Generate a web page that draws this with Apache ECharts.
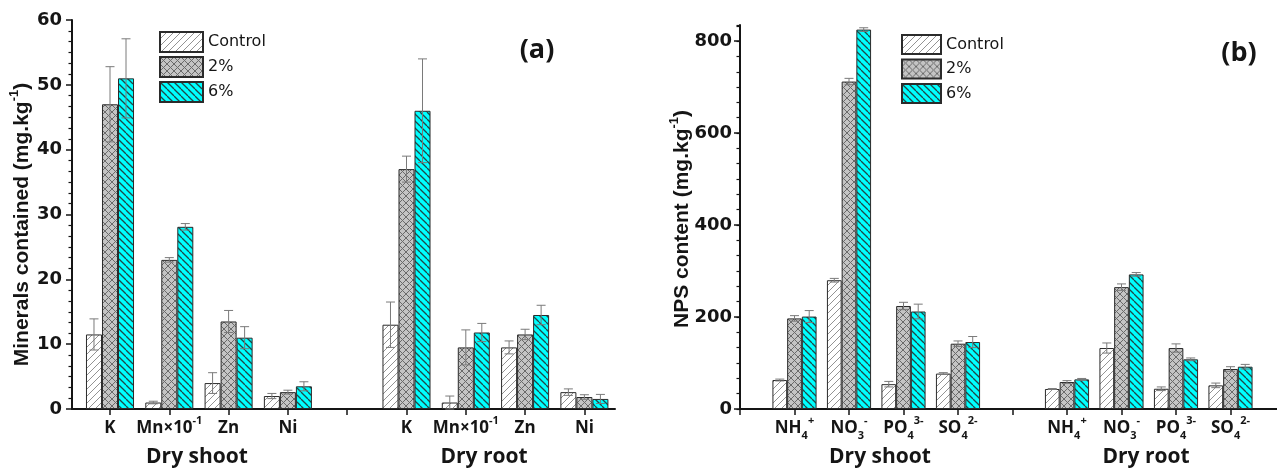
<!DOCTYPE html>
<html><head><meta charset="utf-8">
<script src="https://cdn.jsdelivr.net/npm/echarts@6/dist/echarts.min.js"></script>
<style>html,body{margin:0;padding:0;background:#fff}#c{width:1277px;height:470px}</style>
</head><body><div id="c"></div>
<script>
// ---------------- data ----------------
const seriesNames = ['Control', '2%', '6%'];
const groupLabels = ['Dry shoot', 'Dry root'];

// Panel (a): minerals (mg.kg-1)
const catsA = ['K', 'Mn×10^{-1}', 'Zn', 'Ni', '', 'K', 'Mn×10^{-1}', 'Zn', 'Ni'];
const controlA    = [11.5, 1.0, 4.0, 2.0, null, 13.0, 1.0, 9.5, 2.6];
const controlErrA = [2.4, 0.2, 1.6, 0.4, null, 3.5, 1.0, 1.0, 0.5];
const twoA        = [47.0, 23.0, 13.5, 2.6, null, 37.0, 9.5, 11.5, 1.85];
const twoErrA     = [5.8, 0.35, 1.7, 0.3, null, 2.0, 2.7, 0.8, 0.35];
const sixA        = [51.0, 28.1, 11.0, 3.5, null, 46.0, 11.8, 14.5, 1.55];
const sixErrA     = [6.1, 0.5, 1.7, 0.7, null, 8.0, 1.4, 1.5, 0.7];
const yTitleA = 'Minerals contained (mg.kg^{-1})';

// Panel (b): NPS content (mg.kg-1)
const catsB = ['NH_{4}^{+}', 'NO_{3}^{-}', 'PO_{4}^{3-}', 'SO_{4}^{2-}', '', 'NH_{4}^{+}', 'NO_{3}^{-}', 'PO_{4}^{3-}', 'SO_{4}^{2-}'];
const controlB    = [63, 280, 54, 77, null, 43.5, 132.6, 44, 51.4];
const controlErrB = [2, 4, 6, 2, null, 1, 11, 4, 5];
const twoB        = [197, 712, 224, 142, null, 58.7, 265, 132.6, 87];
const twoErrB     = [6, 7, 8, 6, null, 3, 7, 9, 5];
const sixB        = [201, 825, 212, 145.6, null, 64.4, 292.7, 108, 92];
const sixErrB     = [13, 4, 16, 12, null, 2, 4, 3, 5];
const yTitleB = 'NPS content (mg.kg^{-1})';
const yTicksB = [0, 200, 400, 600, 800];

// ---------------- helpers ----------------
function toRich(s, base) {
  let out = '', last = 0, m;
  const re = /([_^])\{([^}]*)\}/g;
  while ((m = re.exec(s))) {
    if (m.index > last) out += '{' + base + '|' + s.slice(last, m.index) + '}';
    out += '{' + (m[1] === '_' ? 'sub' : 'sup') + '|' + m[2] + '}';
    last = re.lastIndex;
  }
  if (last < s.length) out += '{' + base + '|' + s.slice(last) + '}';
  return out;
}
function hatch(bg, fg, size, dirs, lw) {
  const c = document.createElement('canvas');
  c.width = size; c.height = size;
  const g = c.getContext('2d');
  g.fillStyle = bg; g.fillRect(0, 0, size, size);
  g.strokeStyle = fg; g.lineWidth = lw;
  for (const d of dirs) {
    for (const o of [-size, 0, size]) {
      g.beginPath();
      if (d === '/') { g.moveTo(o, size); g.lineTo(o + size, 0); }
      else { g.moveTo(o, 0); g.lineTo(o + size, size); }
      g.stroke();
    }
  }
  return { image: c, repeat: 'repeat' };
}
const patterns = [
  hatch('#ffffff', '#939393', 7, ['/'], 1),
  hatch('#c4c4c4', '#6a6a6a', 7, ['/', '\\'], 1),
  hatch('#00ffff', '#1f4848', 7, ['\\'], 1.3)
];
const BAR_RATIO = 0.27;
const INK = '#151515';

function barSeries(k, data, xi, yi) {
  return {
    type: 'bar', name: seriesNames[k], xAxisIndex: xi, yAxisIndex: yi, data: data,
    barWidth: (BAR_RATIO * 100) + '%', barGap: '0%',
    itemStyle: { color: patterns[k], borderColor: '#2b2b2b', borderWidth: 1 },
    emphasis: { disabled: true }, z: 2
  };
}
function errSeries(k, vals, errs, xi, yi) {
  const d = [];
  vals.forEach((v, i) => { if (v != null) d.push([i, v, errs[i]]); });
  return {
    type: 'custom', name: 'err' + k, xAxisIndex: xi, yAxisIndex: yi, data: d, z: 5, silent: true,
    encode: { x: 0, y: 1 },
    renderItem: function (p, api) {
      const idx = api.value(0), v = api.value(1), e = api.value(2);
      const band = api.size([1, 0])[0];
      const x = api.coord([idx, v])[0] + (k - 1) * band * BAR_RATIO;
      const yT = api.coord([idx, v + e])[1], yB = api.coord([idx, v - e])[1];
      const cw = 4.5, st = { stroke: '#7a7a7a', lineWidth: 1 };
      return { type: 'group', children: [
        { type: 'line', shape: { x1: x, y1: yT, x2: x, y2: yB }, style: st },
        { type: 'line', shape: { x1: x - cw, y1: yT, x2: x + cw, y2: yT }, style: st },
        { type: 'line', shape: { x1: x - cw, y1: yB, x2: x + cw, y2: yB }, style: st }
      ] };
    }
  };
}
const catRich = {
  t:   { fontFamily: 'Open Sans', fontWeight: 'bold', fontSize: 17, lineHeight: 26, color: INK },
  sup: { fontFamily: 'Open Sans', fontWeight: 'bold', fontSize: 11, lineHeight: 12, color: INK, verticalAlign: 'top' },
  sub: { fontFamily: 'Open Sans', fontWeight: 'bold', fontSize: 11, lineHeight: 12, color: INK, verticalAlign: 'bottom' }
};
const nameRich = {
  n:   { fontFamily: 'Liberation Sans', fontWeight: 'bold', fontSize: 21, lineHeight: 28, color: INK },
  sup: { fontFamily: 'Liberation Sans', fontWeight: 'bold', fontSize: 13, lineHeight: 14, color: INK, verticalAlign: 'top' }
};
const tickLabel = { fontFamily: 'DejaVu Sans', fontWeight: 'bold', fontSize: 18, color: INK };
const axisLine = { show: true, lineStyle: { color: INK, width: 2 } };
const axisTick = { show: true, inside: false, length: 6, lineStyle: { color: INK, width: 1.5 } };
const minorTickStyle = { show: true, inside: false, length: 3.5, lineStyle: { color: INK, width: 1.2 } };

const chart = echarts.init(document.getElementById('c'), null, { renderer: 'canvas' });
chart.setOption({
  animation: false,
  backgroundColor: '#ffffff',
  grid: [
    { left: 72, top: 20, width: 543, height: 389, containLabel: false, outerBoundsMode: 'none' },
    { left: 80.35, top: 20, width: 533.7, height: 389, containLabel: false, outerBoundsMode: 'none' },
    { left: 740, top: 25, width: 545, height: 384, containLabel: false, outerBoundsMode: 'none' },
    { left: 767.25, top: 25, width: 490.5, height: 384, containLabel: false, outerBoundsMode: 'none' }
  ],
  xAxis: [
    { gridIndex: 0, type: 'value', min: 0, max: 1, axisLine: axisLine, axisTick: { show: false }, axisLabel: { show: false }, splitLine: { show: false } },
    { gridIndex: 1, type: 'category', data: catsA, axisLine: { show: false },
      axisTick: Object.assign({}, axisTick, { alignWithLabel: true, interval: 0 }),
      axisLabel: { interval: 0, margin: 6, formatter: v => toRich(v, 't'), rich: catRich } },
    { gridIndex: 2, type: 'value', min: 0, max: 10, interval: 1, axisLine: axisLine, axisTick: axisTick, axisLabel: { show: false }, splitLine: { show: false } },
    { gridIndex: 3, type: 'category', data: catsB, axisLine: { show: false }, axisTick: { show: false },
      axisLabel: { interval: 0, margin: 6, formatter: v => toRich(v, 't'), rich: catRich } }
  ],
  yAxis: [
    { gridIndex: 0, type: 'value', min: 0, max: 60, interval: 10, axisLine: axisLine, axisTick: axisTick,
      minorTick: { show: true, splitNumber: 6, length: 3.5, lineStyle: { color: INK, width: 1.2 } },
      axisLabel: Object.assign({ margin: 10 }, tickLabel), splitLine: { show: false },
      name: toRich(yTitleA, 'n'), nameLocation: 'middle', nameGap: 36, nameRotate: 90, nameMoveOverlap: false,
      nameTextStyle: { rich: nameRich, padding: [0, 20, 0, 0] } },
    { gridIndex: 1, type: 'value', min: 0, max: 60, show: false },
    // main (b) axis: fine ticks every 200/6, labels only at yTicksB
    { gridIndex: 2, type: 'value', position: 'left', min: 0, max: 835, interval: 200 / 6, axisLine: axisLine,
      axisTick: minorTickStyle,
      axisLabel: Object.assign({ margin: 8, customValues: yTicksB }, tickLabel), splitLine: { show: false },
      name: toRich(yTitleB, 'n'), nameLocation: 'middle', nameGap: 44, nameRotate: 90, nameMoveOverlap: false,
      nameTextStyle: { rich: nameRich, padding: [0, 4, 0, 0] } },
    // overlay axis: long ticks at the labelled values
    { gridIndex: 2, type: 'value', position: 'left', offset: 0, min: 0, max: 835, interval: 200,
      axisLine: { show: false }, axisLabel: { show: false }, splitLine: { show: false },
      axisTick: Object.assign({}, axisTick, { customValues: yTicksB }) },
    { gridIndex: 3, type: 'value', min: 0, max: 835, show: false }
  ],
  legend: [
    { left: 159, top: 31, padding: 0, orient: 'vertical', itemWidth: 43, itemHeight: 20, itemGap: 3, icon: 'rect',
      selectedMode: false, data: seriesNames, textStyle: { fontFamily: 'DejaVu Sans', fontSize: 16, color: INK } },
    { left: 901, top: 34, padding: 0, orient: 'vertical', itemWidth: 39, itemHeight: 19, itemGap: 3.5, icon: 'rect',
      selectedMode: false, data: seriesNames, textStyle: { fontFamily: 'DejaVu Sans', fontSize: 16, color: INK } }
  ],
  graphic: [
    { type: 'text', x: 197, y: 457, style: { text: groupLabels[0], font: 'bold 21px "Open Sans"', fill: INK, align: 'center', verticalAlign: 'middle' } },
    { type: 'text', x: 484, y: 457, style: { text: groupLabels[1], font: 'bold 21px "Open Sans"', fill: INK, align: 'center', verticalAlign: 'middle' } },
    { type: 'text', x: 880, y: 457, style: { text: groupLabels[0], font: 'bold 21px "Open Sans"', fill: INK, align: 'center', verticalAlign: 'middle' } },
    { type: 'text', x: 1146, y: 457, style: { text: groupLabels[1], font: 'bold 21px "Open Sans"', fill: INK, align: 'center', verticalAlign: 'middle' } },
    { type: 'text', x: 537, y: 50, style: { text: '(a)', font: 'bold 27px "Open Sans"', fill: INK, align: 'center', verticalAlign: 'middle' } },
    { type: 'text', x: 1239, y: 53, style: { text: '(b)', font: 'bold 27px "Open Sans"', fill: INK, align: 'center', verticalAlign: 'middle' } }
  ],
  series: [
    barSeries(0, controlA, 1, 1), barSeries(1, twoA, 1, 1), barSeries(2, sixA, 1, 1),
    errSeries(0, controlA, controlErrA, 1, 1), errSeries(1, twoA, twoErrA, 1, 1), errSeries(2, sixA, sixErrA, 1, 1),
    barSeries(0, controlB, 3, 4), barSeries(1, twoB, 3, 4), barSeries(2, sixB, 3, 4),
    errSeries(0, controlB, controlErrB, 3, 4), errSeries(1, twoB, twoErrB, 3, 4), errSeries(2, sixB, sixErrB, 3, 4)
  ]
});
</script></body></html>
